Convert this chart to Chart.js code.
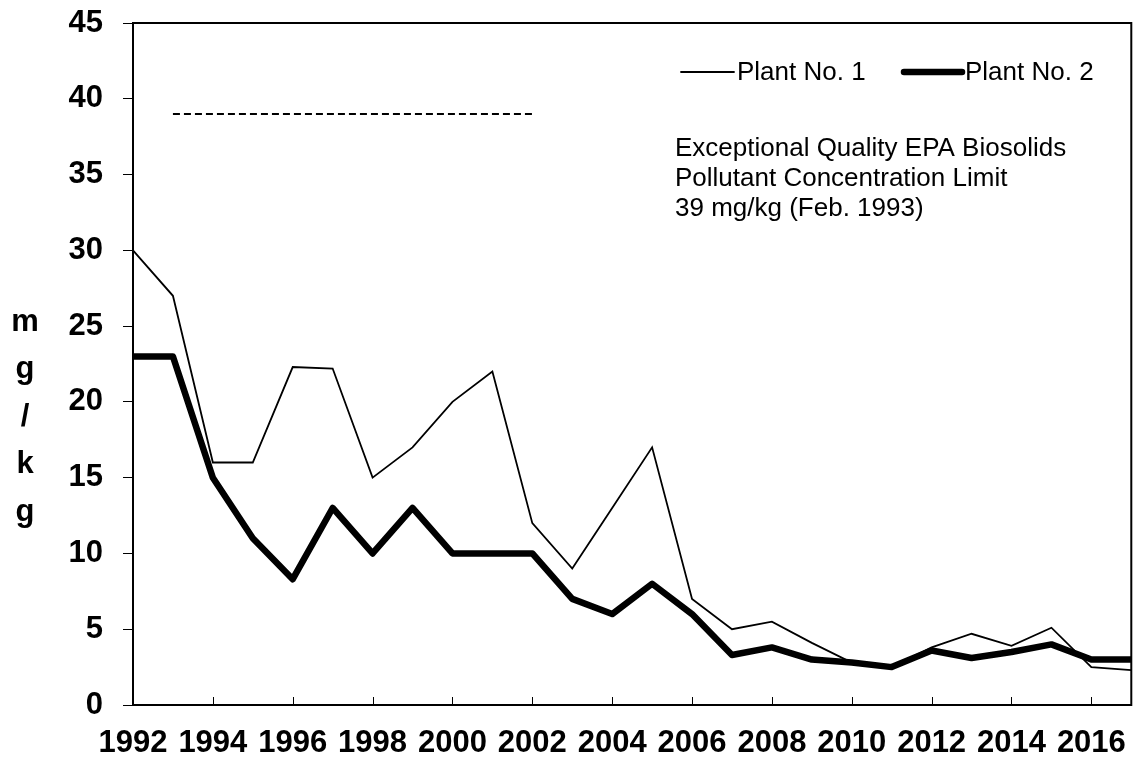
<!DOCTYPE html>
<html>
<head>
<meta charset="utf-8">
<script src="https://cdn.jsdelivr.net/npm/chart.js@4.4.0/dist/chart.umd.min.js"></script>
<style>
  html, body { margin: 0; padding: 0; background: #fff; }
  #wrap { width: 1138px; height: 759px; }
</style>
</head>
<body>
<div id="wrap"><canvas id="chartConc" width="1138" height="759"></canvas></div>
<script>
const years = ['1992', '1993', '1994', '1995', '1996', '1997', '1998', '1999', '2000', '2001', '2002', '2003', '2004',
  '2005', '2006', '2007', '2008', '2009', '2010', '2011', '2012', '2013', '2014', '2015', '2016', '2017'];
const plant1 = [30, 27, 16, 16, 22.3, 22.2, 15, 17, 20, 22, 12, 9, 13, 17, 7, 5, 5.5, 4.1, 2.8, 2.5, 3.8, 4.7, 3.9, 5.1, 2.5, 2.3];
const plant2 = [23, 23, 15, 11, 8.3, 13, 10, 13, 10, 10, 10, 7, 6, 8, 6, 3.3, 3.8, 3.0, 2.8, 2.5, 3.6, 3.1, 3.5, 4.0, 3.0, 3.0];
// EQ limit 39 mg/kg, drawn 1993-2002
const limit = [null, 39, 39, 39, 39, 39, 39, 39, 39, 39, 39, null, null, null, null, null, null, null, null, null, null, null, null, null, null, null];
const yTitle = ['m', 'g', '/', 'k', 'g'];
const noteLines = ['Exceptional Quality EPA Biosolids', 'Pollutant Concentration Limit', '39 mg/kg (Feb. 1993)'];

const FONT = '"Liberation Sans", Arial, sans-serif';

const extras = {
  id: 'extras',
  afterDraw(chart) {
    const ctx = chart.ctx;
    const a = chart.chartArea;
    const xs = chart.scales.x;
    ctx.save();
    // plot frame
    ctx.strokeStyle = '#000';
    ctx.lineWidth = 2;
    ctx.strokeRect(a.left, a.top, a.right - a.left, a.bottom - a.top);
    // x tick marks pointing inward, every 2 years
    ctx.lineWidth = 1;
    for (let i = 0; i < years.length; i += 2) {
      const px = Math.round(xs.getPixelForValue(i)) + 0.5;
      ctx.beginPath();
      ctx.moveTo(px, a.bottom);
      ctx.lineTo(px, a.bottom - 8);
      ctx.stroke();
    }
    // y title, letters stacked
    ctx.fillStyle = '#000';
    ctx.font = 'bold 31px ' + FONT;
    ctx.textAlign = 'center';
    ctx.textBaseline = 'middle';
    yTitle.forEach((ch, i) => ctx.fillText(ch, 25, 322 + i * 47.5));
    // legend
    ctx.font = '26px ' + FONT;
    ctx.textAlign = 'left';
    const legendY = 72;
    const items = [
      {ds: chart.data.datasets[0], x0: 681, x1: 734},
      {ds: chart.data.datasets[1], x0: 904, x1: 962}
    ];
    items.forEach(it => {
      ctx.lineWidth = it.ds.borderWidth;
      ctx.lineCap = 'round';
      ctx.beginPath();
      ctx.moveTo(it.x0, legendY);
      ctx.lineTo(it.x1, legendY);
      ctx.stroke();
      ctx.fillText(it.ds.label, it.x1 + 3, legendY + 1);
    });
    // annotation
    ctx.font = '26px ' + FONT;
    ctx.textBaseline = 'alphabetic';
    noteLines.forEach((t, i) => ctx.fillText(t, 675, 156 + i * 30));
    ctx.restore();
  }
};

new Chart(document.getElementById('chartConc'), {
  type: 'line',
  data: {
    labels: years,
    datasets: [
      {
        label: 'Plant No. 1',
        data: plant1,
        borderColor: '#000',
        borderWidth: 1.8,
        pointRadius: 0,
        tension: 0
      },
      {
        label: 'Plant No. 2',
        data: plant2,
        borderColor: '#000',
        borderWidth: 6.5,
        borderJoinStyle: 'round',
        pointRadius: 0,
        tension: 0
      },
      {
        label: 'limit',
        data: limit,
        borderColor: '#000',
        borderWidth: 2,
        borderDash: [7, 4],
        pointRadius: 0,
        spanGaps: false
      }
    ]
  },
  options: {
    responsive: false,
    animation: false,
    devicePixelRatio: 1,
    layout: { padding: { top: 23, right: 4, left: 0, bottom: 0 } },
    plugins: {
      legend: { display: false },
      tooltip: { enabled: false }
    },
    scales: {
      x: {
        type: 'category',
        offset: false,
        grid: { display: false },
        border: { display: false },
        ticks: {
          autoSkip: false,
          maxRotation: 0,
          padding: 12,
          color: '#000',
          font: { family: FONT, size: 31, weight: 'bold' },
          callback: (v, i) => (i % 2 === 0 ? years[i] : null)
        },
        afterFit: s => { s.height = 54; }
      },
      y: {
        min: 0,
        max: 45,
        grid: { drawOnChartArea: false, tickLength: 10, color: '#000' },
        border: { display: false },
        ticks: {
          stepSize: 5,
          padding: 20,
          color: '#000',
          font: { family: FONT, size: 31, weight: 'bold' }
        },
        afterFit: s => { s.width = 133; s.paddingTop = 0; s.paddingBottom = 0; }
      }
    }
  },
  plugins: [extras]
});
</script>
</body>
</html>
